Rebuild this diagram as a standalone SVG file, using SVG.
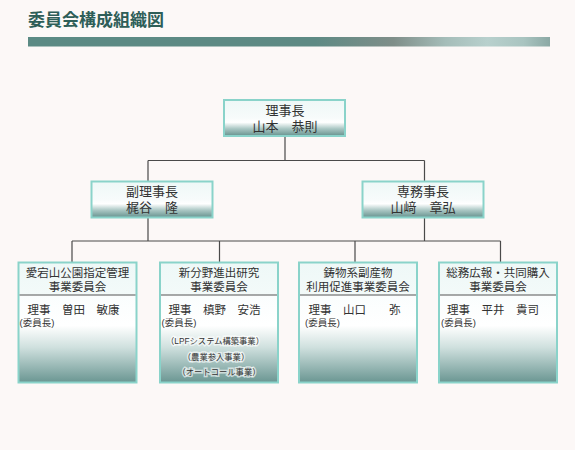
<svg xmlns="http://www.w3.org/2000/svg" width="575" height="450" viewBox="0 0 575 450">
<defs>
<linearGradient id="bar" x1="0" y1="0" x2="1" y2="0">
<stop offset="0" stop-color="#5b8a84"/>
<stop offset="0.55" stop-color="#5e8a84"/>
<stop offset="0.7" stop-color="#7f8e89"/>
<stop offset="0.8" stop-color="#a5bdb9"/>
<stop offset="0.88" stop-color="#b8d0cd"/>
<stop offset="0.95" stop-color="#a9c4c0"/>
<stop offset="1" stop-color="#8ba8a4"/>
</linearGradient>
<linearGradient id="g1" x1="0" y1="0" x2="0" y2="1">
<stop offset="0" stop-color="#eef8f7"/>
<stop offset="0.5" stop-color="#f7fbfb"/>
<stop offset="0.62" stop-color="#ffffff"/>
<stop offset="0.8" stop-color="#a9c6c3"/>
<stop offset="1" stop-color="#66928e"/>
</linearGradient>
<linearGradient id="gh" x1="0" y1="0" x2="0" y2="1">
<stop offset="0" stop-color="#eef8f7"/>
<stop offset="1" stop-color="#f3faf9"/>
</linearGradient>
<linearGradient id="gb" x1="0" y1="0" x2="0" y2="1">
<stop offset="0" stop-color="#fafdfd"/>
<stop offset="0.35" stop-color="#ffffff"/>
<stop offset="0.6" stop-color="#cfe0de"/>
<stop offset="1" stop-color="#6a9692"/>
</linearGradient>
<style>
.box{stroke:#8ad3ca;stroke-width:2}
.t{font-family:"Liberation Sans","Noto Sans CJK JP","Noto Sans CJK SC",sans-serif;fill:#333;}
.c{text-anchor:middle}
.n{font-size:13px}
.h{font-size:11.5px}
.s{font-size:9.5px}
.x{font-size:8.3px;stroke:#ffffff;stroke-width:3;stroke-opacity:0.6;paint-order:stroke}
.ln{stroke:#4a4a4a;stroke-width:1.2;fill:none}
</style>
</defs>
<rect width="575" height="450" fill="#fcf8f7"/>
<g id="title">
<text x="28" y="26" style="font-family:'Liberation Sans','Noto Sans CJK JP',sans-serif;font-weight:bold;font-size:17px;fill:#2e5e58">委員会構成組織図</text>
<rect x="28" y="37" width="522" height="9.5" fill="url(#bar)"/>
</g>
<g id="connectors">
<path class="ln" d="M285 137V160.5M148 160.5H424.5M148 160.5V181M424.5 160.5V181M148 218V241M424.5 218V241M72 241H500.5M72 241V262M219.5 241V262M355 241V262M500.5 241V262"/>
</g>
<g id="chairman">
<rect class="box" x="224" y="100" width="121" height="36" fill="url(#g1)"/>
<text class="t c n" x="285" y="115">理事長<tspan x="285" dy="16">山本　恭則</tspan></text>
</g>
<g id="vice-chairman">
<rect class="box" x="91.5" y="181.5" width="121" height="36" fill="url(#g1)"/>
<text class="t c n" x="152" y="196">副理事長<tspan x="152" dy="16">梶谷　隆</tspan></text>
</g>
<g id="executive-director">
<rect class="box" x="362.5" y="181.5" width="121" height="36" fill="url(#g1)"/>
<text class="t c n" x="423" y="196">専務事長<tspan x="423" dy="16">山﨑　章弘</tspan></text>
</g>
<g id="committee1">
<rect x="18.5" y="262.5" width="118" height="32.5" fill="url(#gh)"/>
<rect x="18.5" y="295" width="118" height="87.5" fill="url(#gb)"/>
<rect class="box" x="18.5" y="262.5" width="118" height="120" fill="none"/>
<line x1="19.5" y1="295" x2="135.5" y2="295" stroke="#555" stroke-width="1"/>
<text class="t c h" x="77.5" y="277">愛宕山公園指定管理<tspan x="77.5" dy="14">事業委員会</tspan></text>
<text class="t h" x="27.5" y="313.5">理事　曽田　敏康</text>
<text class="t s" x="19.5" y="326">(委員長)</text>
</g>
<g id="committee2">
<rect x="160" y="262.5" width="118" height="32.5" fill="url(#gh)"/>
<rect x="160" y="295" width="118" height="87.5" fill="url(#gb)"/>
<rect class="box" x="160" y="262.5" width="118" height="120" fill="none"/>
<line x1="161" y1="295" x2="277" y2="295" stroke="#555" stroke-width="1"/>
<text class="t c h" x="219" y="277">新分野進出研究<tspan x="219" dy="14">事業委員会</tspan></text>
<text class="t h" x="168.5" y="313.5">理事　槙野　安浩</text>
<text class="t s" x="161.5" y="326">(委員長)</text>
<text class="t c x" x="215" y="344">（LPFシステム構築事業）<tspan x="216" dy="15.5">（農業参入事業）</tspan><tspan x="219" dy="15.5">（オートコール事業）</tspan></text>
</g>
<g id="committee3">
<rect x="299" y="262.5" width="118" height="32.5" fill="url(#gh)"/>
<rect x="299" y="295" width="118" height="87.5" fill="url(#gb)"/>
<rect class="box" x="299" y="262.5" width="118" height="120" fill="none"/>
<line x1="300" y1="295" x2="416" y2="295" stroke="#555" stroke-width="1"/>
<text class="t c h" x="358" y="277">鋳物系副産物<tspan x="358" dy="14">利用促進事業委員会</tspan></text>
<text class="t h" x="308.5" y="313.5">理事　山口　　弥</text>
<text class="t s" x="305" y="326">(委員長)</text>
</g>
<g id="committee4">
<rect x="439" y="262.5" width="118" height="32.5" fill="url(#gh)"/>
<rect x="439" y="295" width="118" height="87.5" fill="url(#gb)"/>
<rect class="box" x="439" y="262.5" width="118" height="120" fill="none"/>
<line x1="440" y1="295" x2="556" y2="295" stroke="#555" stroke-width="1"/>
<text class="t c h" x="498" y="277">総務広報・共同購入<tspan x="498" dy="14">事業委員会</tspan></text>
<text class="t h" x="447" y="313.5">理事　平井　貴司</text>
<text class="t s" x="441" y="326">(委員長)</text>
</g>
</svg>
